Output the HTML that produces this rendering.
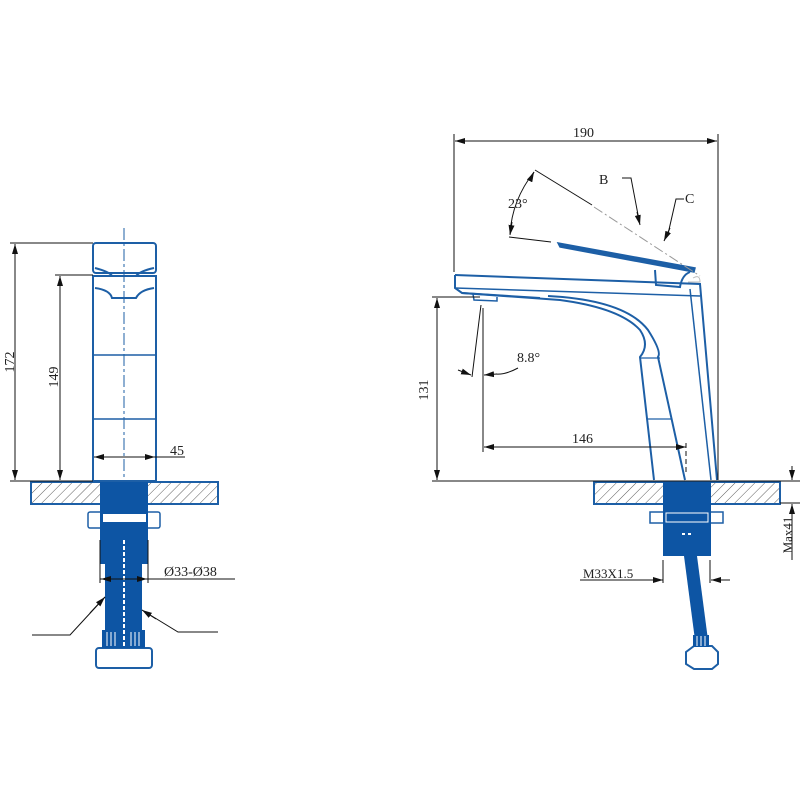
<!DOCTYPE html>
<html><head><meta charset="utf-8"><style>
html,body{margin:0;padding:0;background:#fff}
svg{display:block}
text{font-family:"Liberation Serif",serif;fill:#222}
</style></head><body>
<svg width="800" height="800" viewBox="0 0 800 800" xmlns="http://www.w3.org/2000/svg">
<defs>
<pattern id="h" width="7" height="7" patternUnits="userSpaceOnUse" patternTransform="rotate(45)">
<line x1="0" y1="0" x2="0" y2="7" stroke="#333" stroke-width="0.8"/>
</pattern>
<marker id="a" markerWidth="10" markerHeight="6" refX="10" refY="3" orient="auto" markerUnits="userSpaceOnUse">
<path d="M0,0 L10,3 L0,6 z" fill="#111"/></marker>
</defs>
<g fill="none" stroke="#1d5fa6" stroke-width="2">
<rect x="93" y="243" width="63" height="30" rx="3"/>
<path d="M95,268 Q110,272 112,276 L136,276 Q140,271 154,268"/>
<rect x="93" y="276" width="63" height="205"/>
<path d="M95,288 Q110,290 112,298 L136,298 Q140,290 154,288" />
<line x1="93" y1="355" x2="156" y2="355" stroke-width="1.5"/>
<line x1="93" y1="419" x2="156" y2="419" stroke-width="1.5"/>
<rect x="31" y="482" width="187" height="22" fill="url(#h)"/>
<rect x="88" y="512" width="72" height="16" rx="2" stroke-width="1.5"/>
<rect x="96" y="648" width="56" height="20" rx="3"/>
</g>
<g fill="#0d55a4">
<rect x="100" y="482" width="48" height="82"/>
<rect x="105" y="560" width="37" height="78"/>
<rect x="102" y="630" width="43" height="18"/>
</g>
<g stroke="#fff" stroke-width="1">
<line x1="107" y1="632" x2="107" y2="646"/><line x1="111" y1="632" x2="111" y2="646"/><line x1="115" y1="632" x2="115" y2="646"/>
<line x1="131" y1="632" x2="131" y2="646"/><line x1="135" y1="632" x2="135" y2="646"/><line x1="139" y1="632" x2="139" y2="646"/>
</g>
<rect x="103" y="514" width="43" height="8" fill="#fff"/>
<line x1="124" y1="540" x2="124" y2="648" stroke="#fff" stroke-width="2" stroke-dasharray="4,2"/>
<line x1="124" y1="228" x2="124" y2="480" stroke="#1d5fa6" stroke-width="1" stroke-dasharray="12,3,3,3"/>
<g stroke="#111" stroke-width="1" fill="none">
<line x1="10" y1="243" x2="93" y2="243"/>
<line x1="55" y1="275" x2="93" y2="275"/>
<line x1="10" y1="481" x2="93" y2="481"/>
<line x1="15" y1="252" x2="15" y2="472"/>
<line x1="15" y1="260" x2="15" y2="244" marker-end="url(#a)"/>
<line x1="15" y1="465" x2="15" y2="480" marker-end="url(#a)"/>
<line x1="60" y1="290" x2="60" y2="276" marker-end="url(#a)"/>
<line x1="60" y1="290" x2="60" y2="466"/>
<line x1="60" y1="466" x2="60" y2="480" marker-end="url(#a)"/>
<line x1="110" y1="457" x2="94" y2="457" marker-end="url(#a)"/>
<line x1="110" y1="457" x2="140" y2="457"/>
<line x1="140" y1="457" x2="155" y2="457" marker-end="url(#a)"/>
<line x1="155" y1="457" x2="185" y2="457"/>
<line x1="100" y1="540" x2="100" y2="583"/>
<line x1="148" y1="540" x2="148" y2="583"/>
<line x1="100" y1="579" x2="235" y2="579"/>
<line x1="112" y1="579" x2="101" y2="579" marker-end="url(#a)"/>
<line x1="136" y1="579" x2="147" y2="579" marker-end="url(#a)"/>
<polyline points="32,635 70,635 105,597" />
<line x1="90" y1="613" x2="105" y2="597" marker-end="url(#a)"/>
<polyline points="218,632 178,632 142,610"/>
<line x1="156" y1="619" x2="142" y2="610" marker-end="url(#a)"/>
</g>
<text x="14" y="362" font-size="14" transform="rotate(-90 14 362)" text-anchor="middle">172</text>
<text x="58" y="377" font-size="14" transform="rotate(-90 58 377)" text-anchor="middle">149</text>
<text x="170" y="455" font-size="14">45</text>
<text x="164" y="576" font-size="14">Ø33-Ø38</text>

<g fill="none" stroke="#1d5fa6" stroke-width="2">
<path d="M455,275 L700,284 L717,480"/>
<path d="M455,275 L455,288 L462,293 L540,298"/>
<line x1="690" y1="289" x2="711" y2="480" stroke-width="1.5"/>
<path d="M462,293 L560,300 Q620,308 640,330 Q650,345 640,357 L654,480"/>
<path d="M548,296 Q625,300 648,330 Q662,352 658,357 L685,480"/>
<line x1="455" y1="288" x2="700" y2="296" stroke-width="1.5"/>
<line x1="640" y1="358" x2="660" y2="358" stroke-width="1.2"/>
<line x1="648" y1="419" x2="672" y2="419" stroke-width="1.2"/>
<path d="M473,294 L474,300 L497,301 L497,297" stroke-width="1.5"/>
<path d="M558,243 L695,268 L694,272 L560,247 Z" fill="#1d5fa6" stroke-width="1.5"/>
<path d="M655,270 L656,285 L680,287 Q682,275 690,272"/>
<rect x="594" y="482" width="186" height="22" fill="url(#h)"/>
<rect x="650" y="512" width="73" height="11" stroke-width="1.5"/>
<path d="M686,652 L694,646 L712,646 L718,652 L718,664 L712,669 L694,669 L686,664 Z"/>
</g>
<path d="M693,278 Q700,274 700,282 L688,282" fill="none" stroke="#bbb" stroke-width="1"/>
<g fill="#0d55a4">
<rect x="663" y="482" width="48" height="74"/>
<polygon points="684,556 697,556 708,640 695,640"/>
<rect x="693" y="635" width="16" height="12"/>
</g>
<g stroke="#fff" stroke-width="1"><line x1="697" y1="636" x2="697" y2="646"/><line x1="701" y1="636" x2="701" y2="646"/><line x1="705" y1="636" x2="705" y2="646"/></g>
<rect x="666" y="513" width="42" height="9" fill="none" stroke="#fff" stroke-width="1"/>
<rect x="682" y="533" width="3" height="2" fill="#fff"/><rect x="688" y="533" width="3" height="2" fill="#fff"/>
<g stroke="#111" stroke-width="1" fill="none">
<line x1="454" y1="134" x2="454" y2="272"/>
<line x1="718" y1="134" x2="718" y2="480"/>
<line x1="470" y1="141" x2="455" y2="141" marker-end="url(#a)"/>
<line x1="470" y1="141" x2="700" y2="141"/>
<line x1="700" y1="141" x2="717" y2="141" marker-end="url(#a)"/>
<line x1="509" y1="237" x2="551" y2="242"/>
<line x1="535" y1="170" x2="592" y2="205"/>
<line x1="594" y1="207" x2="700" y2="276" stroke="#999" stroke-dasharray="10,3,2,3"/>
<path d="M510,234 Q512,200 534,172" />
<line x1="530" y1="180" x2="534" y2="172" marker-end="url(#a)"/>
<line x1="512" y1="222" x2="510" y2="235" marker-end="url(#a)"/>
<polyline points="622,178 631,178 639,220"/>
<line x1="637" y1="212" x2="640" y2="225" marker-end="url(#a)"/>
<polyline points="684,199 676,199 668,234"/>
<line x1="670" y1="228" x2="664" y2="241" marker-end="url(#a)"/>
<line x1="432" y1="297" x2="480" y2="297"/>
<line x1="437" y1="312" x2="437" y2="298" marker-end="url(#a)"/>
<line x1="437" y1="312" x2="437" y2="466"/>
<line x1="437" y1="466" x2="437" y2="480" marker-end="url(#a)"/>
<line x1="432" y1="481" x2="800" y2="481"/>
<line x1="483" y1="308" x2="483" y2="452"/>
<line x1="481" y1="305" x2="472" y2="377"/>
<line x1="458" y1="370" x2="471" y2="375" marker-end="url(#a)"/>
<path d="M518,368 Q505,375 496,374"/>
<line x1="497" y1="374" x2="484" y2="375" marker-end="url(#a)"/>
<line x1="498" y1="447" x2="484" y2="447" marker-end="url(#a)"/>
<line x1="498" y1="447" x2="672" y2="447"/>
<line x1="672" y1="447" x2="686" y2="447" marker-end="url(#a)"/>
<line x1="686" y1="443" x2="686" y2="475" stroke-dasharray="5,3"/>
<line x1="663" y1="560" x2="663" y2="583"/>
<line x1="710" y1="560" x2="710" y2="583"/>
<line x1="580" y1="580" x2="662" y2="580"/>
<line x1="650" y1="580" x2="663" y2="580" marker-end="url(#a)"/>
<line x1="724" y1="580" x2="711" y2="580" marker-end="url(#a)"/>
<line x1="724" y1="580" x2="730" y2="580"/>
<line x1="780" y1="503" x2="800" y2="503"/>
<line x1="792" y1="466" x2="792" y2="480" marker-end="url(#a)"/>
<line x1="792" y1="520" x2="792" y2="504" marker-end="url(#a)"/>
<line x1="792" y1="520" x2="792" y2="560"/>
</g>
<text x="573" y="137" font-size="14">190</text>
<text x="599" y="184" font-size="14">B</text>
<text x="685" y="203" font-size="14">C</text>
<text x="508" y="208" font-size="14">23°</text>
<text x="428" y="390" font-size="14" transform="rotate(-90 428 390)" text-anchor="middle">131</text>
<text x="517" y="362" font-size="14">8.8°</text>
<text x="572" y="443" font-size="14">146</text>
<text x="583" y="578" font-size="13">M33X1.5</text>
<text x="792" y="535" font-size="13" transform="rotate(-90 792 535)" text-anchor="middle">Max41</text>
</svg>
</body></html>
